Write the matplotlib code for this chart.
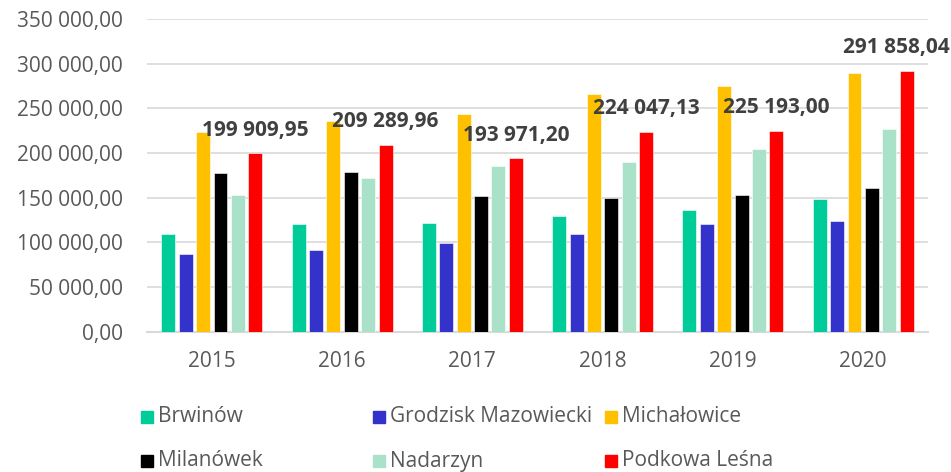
import matplotlib
matplotlib.use("Agg")
import matplotlib.pyplot as plt
from matplotlib.patches import Rectangle
import numpy as np

years = ["2015", "2016", "2017", "2018", "2019", "2020"]
series_names = ["Brwinów", "Grodzisk Mazowiecki", "Michałowice",
                "Milanówek", "Nadarzyn", "Podkowa Leśna"]
brwinow = [109000, 120700, 122000, 130000, 136000, 148000]
grodzisk = [87500, 91700, 99500, 109000, 120400, 124000]
michalowice = [224000, 235500, 244000, 265600, 274500, 289800]
milanowek = [177600, 178300, 152000, 150000, 153500, 160800]
nadarzyn = [153500, 172000, 186000, 189500, 204000, 226600]
podkowa = [199909.95, 209289.96, 193971.20, 224047.13, 225193.00, 291858.04]
yticks = [0, 50000, 100000, 150000, 200000, 250000, 300000, 350000]

colors = ["#00CC99", "#3333CC", "#FFC000", "#000000", "#A9E2C9", "#FF0000"]
series = [brwinow, grodzisk, michalowice, milanowek, nadarzyn, podkowa]

def fmt(v):
    s = f"{v:,.2f}"
    return s.replace(",", " ").replace(".", ",")

plt.rcParams['font.family'] = ['Open Sans', 'DejaVu Sans']

fig = plt.figure(figsize=(9.51, 4.72), dpi=100)
W, H = 951, 472
ax = fig.add_axes([146.7 / W, 1 - 331.7 / H, (928.3 - 146.7) / W, (331.7 - 19) / H])

x = np.arange(len(years))
pitch = 0.1334
bw = 0.107
labels = []
for i, (vals, c) in enumerate(zip(series, colors)):
    off = (i - 2.5) * pitch
    ax.bar(x + off, vals, width=bw, color=c, edgecolor="white",
           linewidth=0.4, zorder=3)
    if i == 5:
        for xi, v in zip(x + off, vals):
            t = ax.annotate(fmt(v), (xi, v), xytext=(0, 12.6), textcoords="offset points",
                            ha="center", va="baseline", fontsize=15, fontweight="bold",
                            color="#404040", zorder=5, annotation_clip=False)
            labels.append(t)

ax.set_xlim(-0.5, len(years) - 0.5)
ax.set_ylim(0, 350000)
ax.set_yticks(yticks)
ax.set_yticklabels([fmt(v) for v in yticks])
ax.set_xticks(x)
ax.set_xticklabels(years)
ax.tick_params(axis="both", length=0, labelsize=15, colors="#595959")
ax.tick_params(axis="y", pad=17)
ax.tick_params(axis="x", pad=14)
ax.grid(axis="y", color="#D9D9D9", linewidth=1.2, zorder=0)
for s in ["top", "right", "left"]:
    ax.spines[s].set_visible(False)
ax.spines["bottom"].set_color("#D9D9D9")
ax.spines["bottom"].set_linewidth(1.5)

# keep data labels inside the figure (like Excel does)
fig.canvas.draw()
renderer = fig.canvas.get_renderer()
for t in labels:
    bb = t.get_window_extent(renderer)
    overflow = bb.x1 - (W - 1)
    if overflow > 0:
        t.set_position((-overflow * 72 / 100, 12.6))

# legend (two rows, three equal columns)
col_x = [141, 373, 605]
row_y = [416.7, 461]
msz = 12
for i, (name, c) in enumerate(zip(series_names, colors)):
    r, cidx = divmod(i, 3)
    mx, my = col_x[cidx], row_y[r]
    fig.add_artist(Rectangle((mx / W, 1 - (my + msz / 2) / H), msz / W, msz / H,
                             transform=fig.transFigure, color=c))
    fig.text((mx + msz + 5) / W, 1 - my / H, name, fontsize=15, color="#595959",
             ha="left", va="center")

fig.savefig("out.png", dpi=100)
